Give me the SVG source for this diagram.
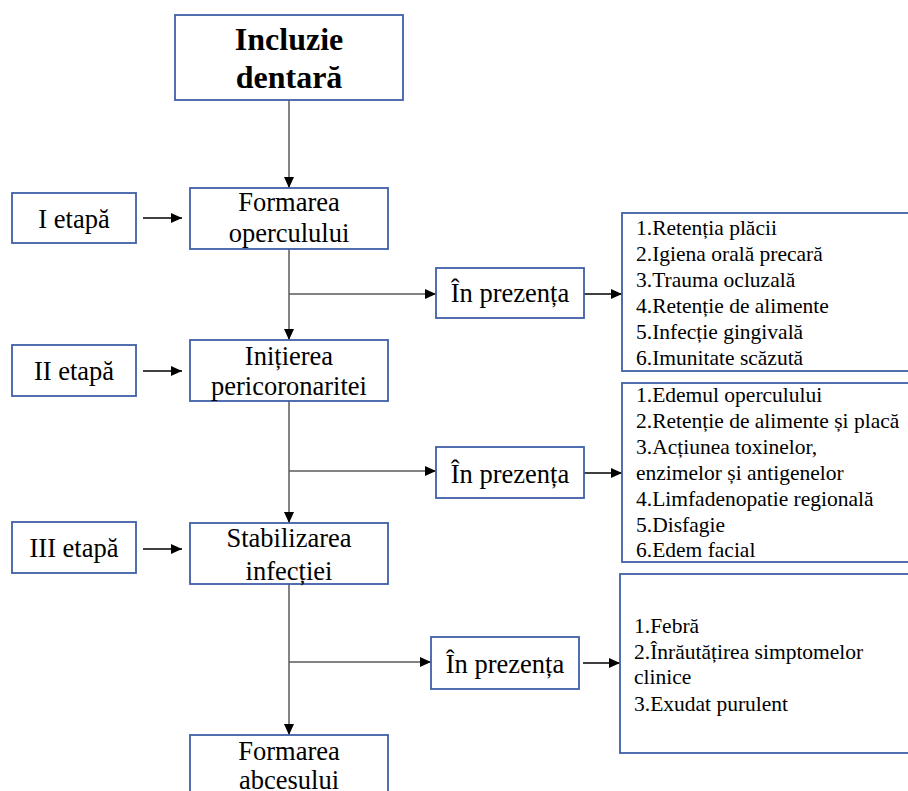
<svg xmlns="http://www.w3.org/2000/svg" width="908" height="791" viewBox="0 0 908 791">
<defs>
<marker id="ah" markerUnits="userSpaceOnUse" markerWidth="12" markerHeight="10" refX="11" refY="5" orient="auto">
<path d="M0,0 L11,5 L0,10 Z" fill="#000"/>
</marker>
<style>
.box{fill:#fff;stroke:#3F5FA8;stroke-width:1.8}
text{font-family:'Liberation Serif','Times New Roman','DejaVu Serif',serif;fill:#000}
.title{font-size:32px;font-weight:bold;text-anchor:middle}
.mid{font-size:26.5px;text-anchor:middle}
.lst{font-size:21.5px}
.ln{stroke:#5a5a5a;stroke-width:1.5;fill:none}
.ar{stroke:#000;stroke-width:1.3;fill:none}
</style>
</defs>
<rect width="908" height="791" fill="#fff"/>
<g id="connectors">
<line class="ln" x1="289" y1="100" x2="289" y2="188" marker-end="url(#ah)"/>
<line class="ln" x1="289" y1="249" x2="289" y2="340" marker-end="url(#ah)"/>
<line class="ln" x1="289" y1="401" x2="289" y2="523" marker-end="url(#ah)"/>
<line class="ln" x1="289" y1="584" x2="289" y2="735" marker-end="url(#ah)"/>
<line class="ln" x1="289" y1="294" x2="436" y2="294" marker-end="url(#ah)"/>
<line class="ln" x1="289" y1="471" x2="436" y2="471" marker-end="url(#ah)"/>
<line class="ln" x1="289" y1="662" x2="431" y2="662" marker-end="url(#ah)"/>
<line class="ar" x1="584" y1="294" x2="622" y2="294" marker-end="url(#ah)"/>
<line class="ar" x1="584" y1="473" x2="622" y2="473" marker-end="url(#ah)"/>
<line class="ar" x1="583" y1="663" x2="620" y2="663" marker-end="url(#ah)"/>
<line class="ar" x1="143" y1="218" x2="182" y2="218" marker-end="url(#ah)"/>
<line class="ar" x1="143" y1="371" x2="182" y2="371" marker-end="url(#ah)"/>
<line class="ar" x1="143" y1="549" x2="182" y2="549" marker-end="url(#ah)"/>
</g>
<g id="n-incluzie">
<rect class="box" x="175" y="15" width="228" height="85"/>
<text class="title" x="289" y="50" font-family="Liberation Serif, serif">Incluzie</text>
<text class="title" x="289" y="88" font-family="Liberation Serif, serif">dentară</text>
</g>
<g id="n-formarea-operculului">
<rect class="box" x="190" y="188" width="198" height="61"/>
<text class="mid" x="289" y="211">Formarea</text>
<text class="mid" x="289" y="242">operculului</text>
</g>
<g id="n-etapa1">
<rect class="box" x="12" y="193" width="124" height="50"/>
<text class="mid" x="74" y="228">I etapă</text>
</g>
<g id="n-initierea">
<rect class="box" x="190" y="340" width="198" height="61"/>
<text class="mid" x="289" y="365">Inițierea</text>
<text class="mid" x="289" y="395">pericoronaritei</text>
</g>
<g id="n-etapa2">
<rect class="box" x="12" y="345" width="124" height="51"/>
<text class="mid" x="74" y="380">II etapă</text>
</g>
<g id="n-stabilizarea">
<rect class="box" x="190" y="523" width="198" height="61"/>
<text class="mid" x="289" y="547">Stabilizarea</text>
<text class="mid" x="289" y="580">infecției</text>
</g>
<g id="n-etapa3">
<rect class="box" x="12" y="522" width="124" height="51"/>
<text class="mid" x="74" y="557">III etapă</text>
</g>
<g id="n-abcesului">
<rect class="box" x="190" y="735" width="198" height="70"/>
<text class="mid" x="289" y="760">Formarea</text>
<text class="mid" x="289" y="789">abcesului</text>
</g>
<g id="n-prezenta1">
<rect class="box" x="436" y="268" width="148" height="50"/>
<text class="mid" x="510" y="302">În prezența</text>
</g>
<g id="n-prezenta2">
<rect class="box" x="436" y="447" width="148" height="51"/>
<text class="mid" x="510" y="483">În prezența</text>
</g>
<g id="n-prezenta3">
<rect class="box" x="431" y="637" width="148" height="52"/>
<text class="mid" x="505" y="673">În prezența</text>
</g>
<g id="n-list1">
<rect class="box" x="622" y="213" width="292" height="158"/>
<text class="lst" x="636" y="235">1.Retenția plăcii</text>
<text class="lst" x="636" y="261">2.Igiena orală precară</text>
<text class="lst" x="636" y="287">3.Trauma ocluzală</text>
<text class="lst" x="636" y="313">4.Retenție de alimente</text>
<text class="lst" x="636" y="339">5.Infecție gingivală</text>
<text class="lst" x="636" y="365">6.Imunitate scăzută</text>
</g>
<g id="n-list2">
<rect class="box" x="622" y="383" width="292" height="179"/>
<text class="lst" x="636" y="402">1.Edemul operculului</text>
<text class="lst" x="636" y="428">2.Retenție de alimente și placă</text>
<text class="lst" x="636" y="454">3.Acțiunea toxinelor,</text>
<text class="lst" x="636" y="480">enzimelor și antigenelor</text>
<text class="lst" x="636" y="506">4.Limfadenopatie regională</text>
<text class="lst" x="636" y="532">5.Disfagie</text>
<text class="lst" x="636" y="557">6.Edem facial</text>
</g>
<g id="n-list3">
<rect class="box" x="620" y="574" width="294" height="179"/>
<text class="lst" x="634" y="633">1.Febră</text>
<text class="lst" x="634" y="659">2.Înrăutățirea simptomelor</text>
<text class="lst" x="634" y="684">clinice</text>
<text class="lst" x="634" y="711">3.Exudat purulent</text>
</g>
</svg>
